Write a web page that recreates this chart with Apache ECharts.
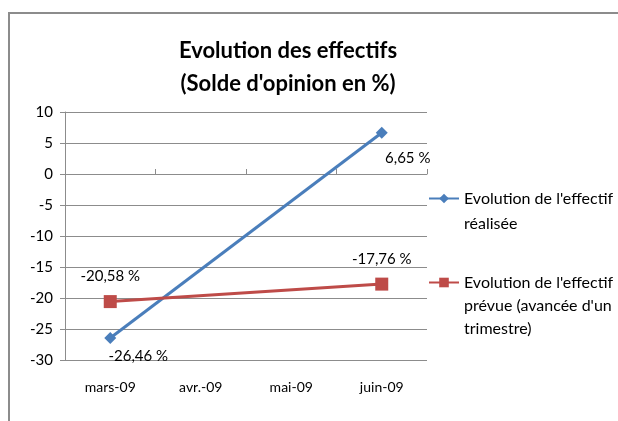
<!DOCTYPE html>
<html>
<head>
<meta charset="utf-8">
<script src="https://cdn.jsdelivr.net/npm/echarts@6/dist/echarts.min.js"></script>
<style>
  html, body { margin: 0; padding: 0; background: #fff; }
  #effectifs { width: 618px; height: 421px; }
</style>
</head>
<body>
<div id="effectifs"></div>
<script>
// Evolution des effectifs - solde d'opinion
var mois = ['mars-09', 'avr.-09', 'mai-09', 'juin-09'];
var realisee = [-26.46, null, null, 6.65];
var prevue = [-20.58, null, null, -17.76];
var nomRealisee = "Evolution de l'effectif réalisée";
var nomPrevue = "Evolution de l'effectif prévue (avancée d'un trimestre)";

(function() {
	var chart = echarts.init(document.getElementById('effectifs'));
	var police = 'Lato';

	function fmtPct(p) {
		return p.value.toFixed(2).replace('.', ',') + ' %';
	}

	option = {
		animation: false,
		textStyle: { fontFamily: police },
		title: {
			text: "Evolution des effectifs\n(Solde d'opinion en %)",
			left: 283,
			textAlign: 'center',
			top: 29,
			textStyle: {
				fontFamily: police,
				fontSize: 22,
				fontWeight: 'bold',
				color: '#000',
				lineHeight: 33
			}
		},
		graphic: [{
			type: 'rect',
			shape: { x: 9, y: 13, width: 800, height: 600 },
			style: { fill: 'none', stroke: '#8c8c8c', lineWidth: 2 },
			silent: true
		}],
		legend: [{
			left: 423,
			top: 156,
			orient: 'vertical',
			itemWidth: 30,
			itemHeight: 12,
			data: [nomRealisee],
			formatter: function() { return "\nEvolution de l'effectif\nréalisée"; },
			textStyle: { fontFamily: police, fontSize: 16, color: '#000', lineHeight: 25 }
		}, {
			left: 423,
			top: 220,
			orient: 'vertical',
			itemWidth: 30,
			itemHeight: 12,
			data: [nomPrevue],
			formatter: function() { return "\n\nEvolution de l'effectif\nprévue (avancée d'un\ntrimestre)"; },
			textStyle: { fontFamily: police, fontSize: 16, color: '#000', lineHeight: 23 }
		}],
		grid: {
			left: 65,
			right: 191,
			top: 112,
			bottom: 61
		},
		xAxis: [{
			type: 'category',
			data: mois,
			position: 'bottom',
			axisLine: { onZero: false, show: false },
			axisTick: { show: false },
			axisLabel: { fontFamily: police, fontSize: 14, color: '#000', margin: 20 }
		}, {
			type: 'category',
			data: mois,
			axisLine: { onZero: true, lineStyle: { color: '#8c8c8c', width: 1 } },
			axisTick: { show: true, length: 5, lineStyle: { color: '#8c8c8c' } },
			axisLabel: { show: false }
		}],
		yAxis: {
			type: 'value',
			min: -30,
			max: 10,
			interval: 5,
			axisLine: { show: true, lineStyle: { color: '#8c8c8c' } },
			axisTick: { show: true, length: 5, lineStyle: { color: '#8c8c8c' } },
			axisLabel: { fontFamily: police, fontSize: 15, color: '#000', margin: 12 },
			splitLine: { lineStyle: { color: '#8c8c8c', width: 1 } }
		},
		series: [{
			name: nomRealisee,
			type: 'line',
			data: realisee,
			connectNulls: true,
			symbol: 'diamond',
			symbolSize: 12,
			color: '#4a7ebb',
			lineStyle: { width: 3, color: '#4a7ebb' },
			itemStyle: { color: '#4a7ebb' },
			label: {
				show: true,
				formatter: fmtPct,
				fontFamily: police,
				fontSize: 15,
				color: '#000',
				position: 'bottom',
				distance: 4
			},
			labelLayout: function(p) {
				if (p.dataIndex === 3) {
					return { dx: 26, dy: 8 };
				}
				return { dx: 28, dy: 1 };
			}
		}, {
			name: nomPrevue,
			type: 'line',
			data: prevue,
			connectNulls: true,
			symbol: 'rect',
			symbolSize: 13,
			color: '#be4b48',
			lineStyle: { width: 3, color: '#be4b48' },
			itemStyle: { color: '#be4b48' },
			label: {
				show: true,
				formatter: fmtPct,
				fontFamily: police,
				fontSize: 15,
				color: '#000',
				position: 'top',
				distance: 11
			}
		}]
	};

	chart.setOption(option);
})();
</script>
</body>
</html>
